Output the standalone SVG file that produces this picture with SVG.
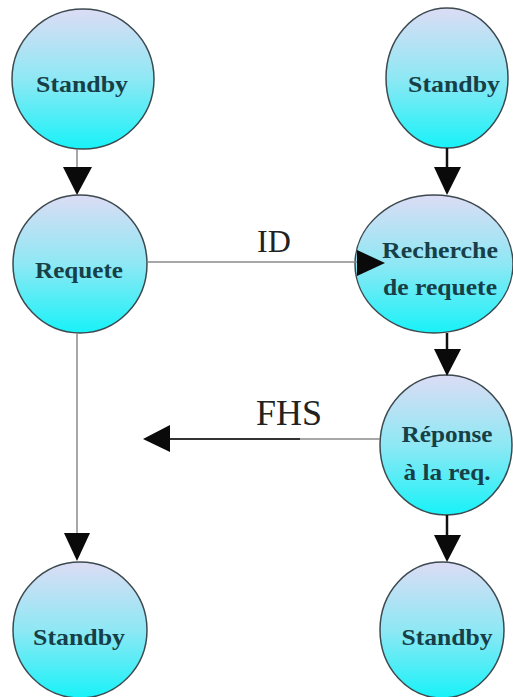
<svg xmlns="http://www.w3.org/2000/svg" width="513" height="697" viewBox="0 0 513 697">
<defs>
<linearGradient id="g" x1="0" y1="0" x2="0" y2="1">
<stop offset="0" stop-color="#dcdcf4"/>
<stop offset="0.5" stop-color="#8ee8f4"/>
<stop offset="1" stop-color="#18f2f8"/>
</linearGradient>
</defs>
<style>
.n{fill:url(#g);stroke:#3c4a50;stroke-width:1.5}
.t{font-family:"Liberation Serif",serif;font-weight:bold;font-size:23px;fill:#173f48;text-anchor:middle}
.lbl{font-family:"Liberation Serif",serif;font-size:32px;fill:#222;text-anchor:middle}
.thin{stroke:#8a8a8a;stroke-width:1.5;fill:none}
.thick{stroke:#111;stroke-width:2.5;fill:none}
.ah{fill:#0a0a0a}
</style>
<rect width="513" height="697" fill="#ffffff"/>
<g id="standby-tl"><ellipse class="n" cx="83" cy="79" rx="71" ry="70"/><text class="t" x="82" y="92" textLength="92" lengthAdjust="spacingAndGlyphs">Standby</text></g>
<g id="standby-tr"><ellipse class="n" cx="447" cy="78" rx="61" ry="70"/><text class="t" x="454" y="92" textLength="92" lengthAdjust="spacingAndGlyphs">Standby</text></g>
<g id="requete"><ellipse class="n" cx="80" cy="264" rx="67" ry="69"/><text class="t" x="79" y="278" textLength="88" lengthAdjust="spacingAndGlyphs">Requete</text></g>
<g id="recherche"><ellipse class="n" cx="434" cy="264" rx="79" ry="69"/><text class="t" x="440" y="258" textLength="116" lengthAdjust="spacingAndGlyphs">Recherche</text><text class="t" x="440" y="295" textLength="114" lengthAdjust="spacingAndGlyphs">de requete</text></g>
<g id="reponse"><ellipse class="n" cx="446" cy="445" rx="66" ry="70"/><text class="t" x="447" y="442" textLength="91" lengthAdjust="spacingAndGlyphs">Réponse</text><text class="t" x="447" y="480" textLength="87" lengthAdjust="spacingAndGlyphs">à la req.</text></g>
<g id="standby-bl"><ellipse class="n" cx="80" cy="630" rx="67" ry="68"/><text class="t" x="79" y="645" textLength="92" lengthAdjust="spacingAndGlyphs">Standby</text></g>
<g id="standby-br"><ellipse class="n" cx="442" cy="630" rx="62" ry="68"/><text class="t" x="447" y="645" textLength="91" lengthAdjust="spacingAndGlyphs">Standby</text></g>
<g id="connectors">
<line class="thin" x1="77" y1="149" x2="77" y2="170"/>
<polygon class="ah" points="63,167 92,167 77,195"/>
<line class="thick" x1="447" y1="148" x2="447" y2="170"/>
<polygon class="ah" points="434,167 461,167 447,195"/>
<line class="thin" x1="148" y1="262" x2="360" y2="262"/>
<polygon class="ah" points="357,250 357,276 385,263"/>
<text class="lbl" x="274" y="252">ID</text>
<line class="thick" x1="447" y1="333" x2="447" y2="352"/>
<polygon class="ah" points="434,349 461,349 447,376"/>
<line class="thin" x1="380" y1="439" x2="298" y2="439"/>
<line stroke="#333" stroke-width="2" x1="300" y1="439" x2="168" y2="439"/>
<polygon class="ah" points="170,425 170,452 143,439"/>
<text class="lbl" x="289" y="425" style="font-size:36px">FHS</text>
<line class="thin" x1="77" y1="333" x2="77" y2="535"/>
<polygon class="ah" points="64,533 90,533 77,561"/>
<line class="thick" x1="447" y1="515" x2="447" y2="537"/>
<polygon class="ah" points="434,535 461,535 447,562"/>
</g>
</svg>
